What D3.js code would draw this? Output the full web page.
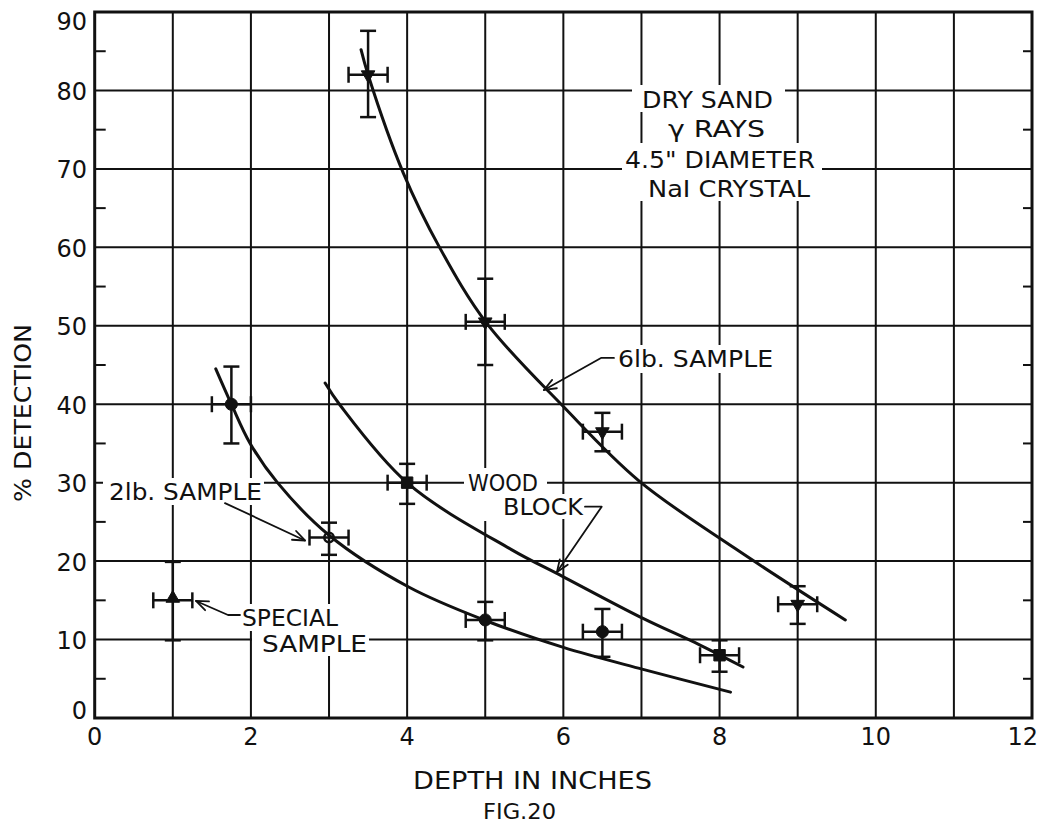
<!DOCTYPE html>
<html>
<head>
<meta charset="utf-8">
<script src="https://cdn.jsdelivr.net/npm/d3@7"></script>
<style>
  body { margin: 0; background: #fff; }
  svg text { font-family: "DejaVu Sans", "Liberation Sans", sans-serif; fill: #111; }
</style>
</head>
<body>
<svg id="chart" width="1041" height="828"></svg>
<script>
// ---- axes ----
const xTickValues = [0, 2, 4, 6, 8, 10, 12];
const yTickValues = [0, 10, 20, 30, 40, 50, 60, 70, 80, 90];
const xGridValues = [1, 2, 3, 4, 5, 6, 7, 8, 9, 10, 11];
const yGridValues = [10, 20, 30, 40, 50, 60, 70, 80];
const yMinorValues = [5, 15, 25, 35, 45, 55, 65, 75, 85];

// ---- measurements: depth (in), % detection, error limits ----
const depthErr = 0.25;

// 6 lb sample
const depth6lb = [3.5, 5.0, 6.5, 9.0];
const det6lb = [82, 50.5, 36.5, 14.5];
const det6lbLow = [76.6, 45, 34, 12];
const det6lbHigh = [87.6, 56, 38.9, 16.8];

// 2 lb sample
const depth2lb = [1.75, 3.0, 5.0, 6.5];
const det2lb = [40, 23, 12.5, 11];
const det2lbLow = [35, 20.8, 9.9, 7.8];
const det2lbHigh = [44.8, 24.9, 14.8, 13.9];
const open2lb = [false, true, false, false];

// wood block
const depthWood = [4.0, 8.0];
const detWood = [30, 8];
const detWoodLow = [27.3, 5.9];
const detWoodHigh = [32.4, 9.9];

// special sample
const depthSpecial = [1.0];
const detSpecial = [15];
const detSpecialLow = [9.9];
const detSpecialHigh = [19.9];

// ---- hand-drawn fitted curves ----
const curve6lbX = [3.41, 3.5, 3.95, 4.42, 5.02, 6.0, 6.96, 8.2, 9.61];
const curve6lbY = [85.2, 82, 69.5, 59.9, 50.3, 39.7, 30.3, 21.6, 12.5];
const curveWoodX = [2.95, 3.14, 4.01, 5.33, 6.0, 7.02, 7.75, 8.3];
const curveWoodY = [42.7, 39.9, 29.9, 21.5, 18.0, 12.7, 9.3, 6.5];
const curve2lbX = [1.55, 1.75, 1.99, 2.34, 3.0, 4.02, 5.01, 6.0, 7.02, 8.14];
const curve2lbY = [44.5, 40, 35, 30, 23.3, 16.7, 12.4, 9.0, 6.2, 3.3];

// ---- layout ----
const svg = d3.select("#chart");
const plotL = 94.7, plotR = 1032, plotT = 12, plotB = 718;
const x = d3.scaleLinear().domain([0, 12]).range([plotL, plotR]);
const y = d3.scaleLinear().domain([0, 90]).range([plotB, plotT]);
const ink = "#111";

// grid
const grid = svg.append("g").attr("stroke", ink).attr("stroke-width", 2);
grid.append("g").selectAll("line").data(xGridValues).join("line")
  .attr("x1", d => x(d)).attr("x2", d => x(d)).attr("y1", plotT).attr("y2", plotB);
grid.append("g").selectAll("line").data(yGridValues).join("line")
  .attr("y1", d => y(d)).attr("y2", d => y(d)).attr("x1", plotL).attr("x2", plotR);
// minor ticks on both vertical edges
grid.append("g").selectAll("line").data(yMinorValues).join("line")
  .attr("x1", plotL).attr("x2", plotL + 11).attr("y1", d => y(d)).attr("y2", d => y(d));
grid.append("g").selectAll("line").data(yMinorValues).join("line")
  .attr("x1", plotR - 9).attr("x2", plotR).attr("y1", d => y(d)).attr("y2", d => y(d));

// frame
svg.append("rect").attr("x", plotL).attr("y", plotT)
  .attr("width", plotR - plotL).attr("height", plotB - plotT)
  .attr("fill", "none").attr("stroke", ink).attr("stroke-width", 3);

// tick labels (the last x label is kept inside the page edge)
svg.append("g").selectAll("text").data(xTickValues).join("text")
  .attr("x", (d, i) => i === xTickValues.length - 1 ? plotR + 6 : x(d))
  .attr("y", 745)
  .attr("text-anchor", (d, i) => i === xTickValues.length - 1 ? "end" : "middle")
  .attr("font-size", 24).text(d => d);
svg.append("g").selectAll("text").data(yTickValues).join("text")
  .attr("x", 87).attr("y", d => Math.min(Math.max(y(d) + 1.5, plotT + 9.5), plotB - 7))
  .attr("dominant-baseline", "central").attr("text-anchor", "end")
  .attr("font-size", 24).text(d => d);

// axis titles
svg.append("text").attr("x", 413).attr("y", 789).attr("font-size", 24)
  .attr("textLength", 239).attr("lengthAdjust", "spacingAndGlyphs").text("DEPTH IN INCHES");
svg.append("text").attr("x", 483).attr("y", 819).attr("font-size", 22)
  .attr("textLength", 73).attr("lengthAdjust", "spacingAndGlyphs").text("FIG.20");
svg.append("text").attr("transform", "translate(31,502) rotate(-90)")
  .attr("font-size", 23).attr("textLength", 178).attr("lengthAdjust", "spacingAndGlyphs")
  .text("% DETECTION");

// annotation labels: text, start x, baseline y, width, mask padding [l, r, t, b]
const notes = [
  { t: "DRY SAND", x: 642, y: 108, w: 131, pad: [10, 12, 6, 4] },
  { t: "\u03B3 RAYS", x: 668, y: 137, w: 97, pad: [8, 10, 8, 6] },
  { t: "4.5\" DIAMETER", x: 625, y: 168, w: 190, pad: [3, 7, 8, 4] },
  { t: "NaI CRYSTAL", x: 648, y: 197, w: 162, pad: [8, 5, 8, 4] },
  { t: "6lb. SAMPLE", x: 618, y: 367, w: 155, pad: [6, 5, 5, 6] },
  { t: "WOOD", x: 468, y: 491, w: 70, pad: [4, 9, 6, 30] },
  { t: "BLOCK", x: 503, y: 515, w: 80, pad: [6, 5, 4, 4] },
  { t: "2lb. SAMPLE", x: 109, y: 500, w: 153, pad: [6, 2, 5, 5] },
  { t: "SPECIAL", x: 242, y: 626, w: 96, pad: [6, 6, 5, 5] },
  { t: "SAMPLE", x: 262, y: 652, w: 105, pad: [10, 2, 4, 4] }
];
const capH = 17;
svg.append("g").selectAll("rect").data(notes).join("rect")
  .attr("fill", "#fff")
  .attr("x", d => d.x - d.pad[0]).attr("y", d => d.y - capH - d.pad[2])
  .attr("width", d => d.w + d.pad[0] + d.pad[1])
  .attr("height", d => capH + d.pad[2] + d.pad[3]);

// curves
const line = d3.line().x(d => x(d[0])).y(d => y(d[1])).curve(d3.curveCatmullRom.alpha(0.5));
const curves = [
  d3.zip(curve6lbX, curve6lbY),
  d3.zip(curveWoodX, curveWoodY),
  d3.zip(curve2lbX, curve2lbY)
];
svg.append("g").selectAll("path").data(curves).join("path")
  .attr("d", line).attr("fill", "none").attr("stroke", ink)
  .attr("stroke-width", 3).attr("stroke-linecap", "round");

// error bars + markers
function series(xs, ys, lo, hi, symbol, opts = {}) {
  const g = svg.append("g");
  const pts = xs.map((d, i) => ({ x: d, y: ys[i], lo: lo[i], hi: hi[i], open: opts.open ? opts.open[i] : false }));
  const cap = 8;
  const eb = g.append("g").attr("stroke", ink).attr("stroke-width", 2.5);
  const seg = (f) => eb.append("g").selectAll("line").data(pts).join("line").each(function (d) {
    const [x1, y1, x2, y2] = f(d);
    d3.select(this).attr("x1", x1).attr("y1", y1).attr("x2", x2).attr("y2", y2);
  });
  seg(d => [x(d.x), y(d.lo), x(d.x), y(d.hi)]);
  seg(d => [x(d.x) - cap, y(d.lo), x(d.x) + cap, y(d.lo)]);
  seg(d => [x(d.x) - cap, y(d.hi), x(d.x) + cap, y(d.hi)]);
  seg(d => [x(d.x - depthErr), y(d.y), x(d.x + depthErr), y(d.y)]);
  seg(d => [x(d.x - depthErr), y(d.y) - cap, x(d.x - depthErr), y(d.y) + cap]);
  seg(d => [x(d.x + depthErr), y(d.y) - cap, x(d.x + depthErr), y(d.y) + cap]);
  g.append("g").selectAll("path").data(pts).join("path")
    .attr("d", d => d3.symbol(symbol, d.open ? 70 : opts.size || 110)())
    .attr("transform", d => `translate(${x(d.x)},${y(d.y) + (opts.dy || 0)}) rotate(${opts.rot || 0})`)
    .attr("fill", d => d.open ? "none" : ink).attr("stroke", ink)
    .attr("stroke-width", d => d.open ? 2.5 : 1);
}
series(depth6lb, det6lb, det6lbLow, det6lbHigh, d3.symbolTriangle, { rot: 180, size: 80 });
series(depth2lb, det2lb, det2lbLow, det2lbHigh, d3.symbolCircle, { open: open2lb, size: 115 });
series(depthWood, detWood, detWoodLow, detWoodHigh, d3.symbolSquare, { size: 130 });
series(depthSpecial, detSpecial, detSpecialLow, detSpecialHigh, d3.symbolTriangle, { size: 80, dy: -2 });

// label text
svg.append("g").selectAll("text").data(notes).join("text")
  .attr("x", d => d.x).attr("y", d => d.y).attr("font-size", 23)
  .attr("textLength", d => d.w).attr("lengthAdjust", "spacingAndGlyphs")
  .text(d => d.t);

// leader lines with open arrowheads (points in data units)
const leaders = [
  [[1.668, 27.4], [2.692, 22.63]],
  [[1.860, 13.13], [1.707, 13.13], [1.297, 14.92]],
  [[6.648, 45.9], [6.482, 45.9], [5.752, 41.82]],
  [[6.277, 26.94], [6.491, 26.94], [5.918, 18.61]]
];
const lg = svg.append("g").attr("fill", "none").attr("stroke", ink)
  .attr("stroke-width", 1.8).attr("stroke-linecap", "round").attr("stroke-linejoin", "round");
leaders.forEach(pts => {
  const p = pts.map(d => [x(d[0]), y(d[1])]);
  lg.append("path").attr("d", d3.line()(p));
  const [a, b] = p.slice(-2);
  const ang = Math.atan2(b[1] - a[1], b[0] - a[0]);
  const L = 13, spread = 0.38;
  const h1 = [b[0] - L * Math.cos(ang - spread), b[1] - L * Math.sin(ang - spread)];
  const h2 = [b[0] - L * Math.cos(ang + spread), b[1] - L * Math.sin(ang + spread)];
  lg.append("path").attr("d", d3.line()([h1, b, h2]));
});
</script>
</body>
</html>
